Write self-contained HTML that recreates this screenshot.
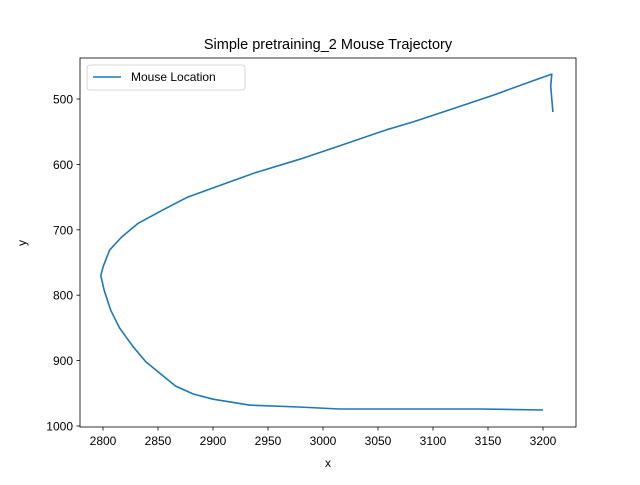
<!DOCTYPE html>
<html><head><meta charset="utf-8"><style>
body{margin:0;background:#fff}
svg text{font-family:"Liberation Sans","DejaVu Sans",sans-serif;fill:#000}
</style></head><body>
<svg id="chart" width="640" height="480">
<rect width="640" height="480" fill="#fff"/>
<text x="328" y="49" font-size="14.5" text-anchor="middle">Simple pretraining_2 Mouse Trajectory</text>
<text x="328" y="467" font-size="12" text-anchor="middle">x</text>
<text x="26" y="243" font-size="12" text-anchor="middle" transform="rotate(-90 26 243)">y</text>
<g id="ticks"></g>
<polyline id="line" fill="none" stroke="#1f77b4" stroke-width="1.6" stroke-linejoin="round"/>
<rect x="80" y="58" width="496" height="369" fill="none" stroke="#000" stroke-width="0.8"/>
<g>
<rect x="87" y="65" width="158" height="25" rx="3" fill="#fff" stroke="#ccc" stroke-width="0.8"/>
<line x1="93" y1="77" x2="121" y2="77" stroke="#1f77b4" stroke-width="1.6"/>
<text x="131" y="81" font-size="12">Mouse Location</text>
</g>
</svg>
<script>
const xsData=[3200,3143,3015,2978,2933,2900,2882,2866,2850,2839,2827,2815,2807,2801,2798,2800,2806,2817,2832,2854,2877,2908,2938,2979,3009,3058,3082,3118,3155,3191,3208,3207,3208,3209];
const ysData=[975.5,974,974,971,968,959,951,939,917,902,878,850,823,792,770,757,731,711,690,670,650,631,613,592,575,547,535,515,494,472,462,480,500,520];
const xTicks=[2800,2850,2900,2950,3000,3050,3100,3150,3200];
const yTicks=[500,600,700,800,900,1000];
const X=v=>103+(v-2800)*1.1;
const Y=v=>99+(v-500)*0.654;
const ns="http://www.w3.org/2000/svg";
const line=document.getElementById('line');
line.setAttribute('points',xsData.map((x,i)=>X(x).toFixed(1)+','+Y(ysData[i]).toFixed(1)).join(' '));
const g=document.getElementById('ticks');
xTicks.forEach(t=>{
 const l=document.createElementNS(ns,'line');
 
 
 l.setAttribute('x1',X(t));l.setAttribute('x2',X(t));l.setAttribute('y1',427);l.setAttribute('y2',430.5);l.setAttribute('stroke','#000');l.setAttribute('stroke-width','0.8');g.appendChild(l);
 const tx=document.createElementNS(ns,'text');
 
 
 tx.setAttribute('x',X(t));tx.setAttribute('y',445);tx.setAttribute('font-size','12');tx.setAttribute('text-anchor','middle');tx.textContent=t;g.appendChild(tx);
});
yTicks.forEach(t=>{
 const l=document.createElementNS(ns,'line');
 
 
 l.setAttribute('x1',76.5);l.setAttribute('x2',80);l.setAttribute('y1',Y(t));l.setAttribute('y2',Y(t));l.setAttribute('stroke','#000');l.setAttribute('stroke-width','0.8');g.appendChild(l);
 const tx=document.createElementNS(ns,'text');
 
 
 tx.setAttribute('x',73);tx.setAttribute('y',Y(t)+4.5);tx.setAttribute('font-size','12');tx.setAttribute('text-anchor','end');tx.textContent=t;g.appendChild(tx);
});
</script>
</body></html>
